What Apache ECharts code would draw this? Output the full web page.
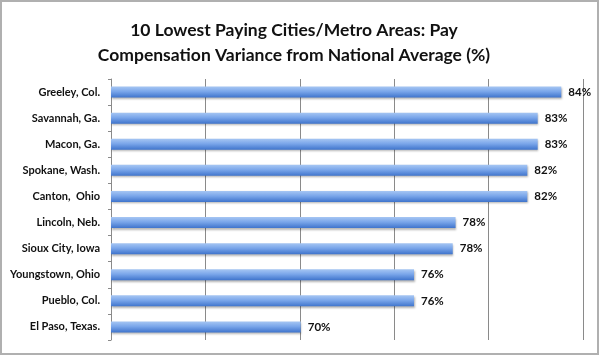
<!DOCTYPE html>
<html>
<head>
<meta charset="utf-8">
<script src="https://cdn.jsdelivr.net/npm/echarts@6/dist/echarts.min.js"></script>
<style>
html,body{margin:0;padding:0;background:#fff;}
#chart{width:600px;height:357px;}
</style>
</head>
<body>
<div id="chart"></div>
<script>
const titleText = "10 Lowest Paying Cities/Metro Areas: Pay\nCompensation Variance from National Average (%)";
const categories = ["Greeley, Col.", "Savannah, Ga.", "Macon, Ga.", "Spokane, Wash.", "Canton,  Ohio",
  "Lincoln, Neb.", "Sioux City, Iowa", "Youngstown, Ohio", "Pueblo, Col.", "El Paso, Texas."];
const variance = [0.8385, 0.826, 0.826, 0.8205, 0.8205, 0.7825, 0.781, 0.7605, 0.7605, 0.7005];
const axisMin = 0.6, axisMax = 0.85, axisStep = 0.05;

const chart = echarts.init(document.getElementById('chart'), null, {renderer: 'canvas'});
chart.setOption({
  animation: false,
  backgroundColor: '#ffffff',
  title: {
    text: titleText,
    left: 289,
    top: 13,
    textAlign: 'center',
    textStyle: {fontFamily: 'Lato', fontSize: 17.5, fontWeight: 'bold', color: '#111', lineHeight: 25}
  },
  grid: {left: 111, right: 17, top: 79, bottom: 17, containLabel: false},
  xAxis: {
    type: 'value', min: axisMin, max: axisMax, interval: axisStep,
    axisLabel: {show: false}, axisLine: {show: false}, axisTick: {show: false},
    splitLine: {show: true, lineStyle: {color: '#8a8a8a', width: 1}}
  },
  yAxis: {
    type: 'category', data: categories, inverse: true,
    axisLine: {show: true, lineStyle: {color: '#8a8a8a', width: 1}},
    axisTick: {show: true, length: 3, lineStyle: {color: '#8a8a8a'}},
    axisLabel: {margin: 11, fontFamily: 'Lato', fontSize: 11, fontWeight: 'bold', color: '#111'}
  },
  series: [{
    type: 'bar', data: variance, barWidth: 11,
    itemStyle: {
      color: new echarts.graphic.LinearGradient(0, 0, 0, 1, [
        {offset: 0, color: '#a6c6f3'},
        {offset: 0.45, color: '#7aa6ea'},
        {offset: 1, color: '#3f74cc'}
      ]),
      shadowColor: 'rgba(0,0,0,0.3)', shadowBlur: 2, shadowOffsetY: 1.5, shadowOffsetX: 0.5
    },
    label: {
      show: true, position: 'right', distance: 7,
      fontFamily: 'Lato', fontSize: 11.5, fontWeight: 'bold', color: '#111',
      formatter: p => Math.round(p.value * 100) + '%'
    }
  }],
  graphic: [{
    type: 'rect', silent: true, z: 100,
    shape: {x: 1, y: 1, width: 597, height: 353},
    style: {fill: 'none', stroke: '#b0b0b0', lineWidth: 2}
  }]
});
</script>
</body>
</html>
